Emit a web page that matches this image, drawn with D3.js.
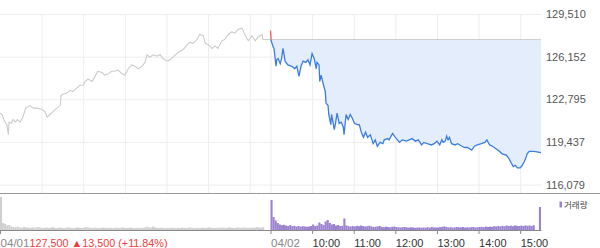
<!DOCTYPE html>
<html>
<head>
<meta charset="utf-8">
<script src="https://cdn.jsdelivr.net/npm/d3@7"></script>
<style>
body { margin: 0; background: #fff; }
svg { display: block; font-family: "Liberation Sans", Arial, "Noto Sans CJK KR", sans-serif; }
</style>
</head>
<body>
<svg width="600" height="248"></svg>
<script>
// price axis ticks
var yTicks = [116079, 119437, 122795, 126152, 129510];
var prevClose = 127500;

// 04/01 minutes from 9:00 and prices
var d1Min = [0,3,7,10,12,13,16,19,22,25,29,33,37,43,48,53,61,65,68,72,76,82,87,88,91,97,101,105,111,115,120,123,127,133,137,141,147,151,156,161,166,170,176,180,185,190,195,199,205,209,212,216,221,226,231,235,241,245,249,255,260,264,270,274,278,284,288,293,296,300,306,310,314,320,324,329,334,339,343,349,353,358,363,368,372,378,379,390];
var d1Price = [121700,121600,121000,120800,120000,121000,120900,121200,121000,121200,121000,121400,122100,122300,122100,122100,122000,121800,121400,121600,121800,122100,122300,123100,123200,123300,123500,123400,123700,123900,123900,124200,124400,124200,124600,125000,124900,124700,124800,125000,125000,125100,124800,124700,125200,125500,125400,125200,125400,125700,126300,126100,126300,126200,126300,126000,125800,125900,126100,126400,126600,126700,127100,127300,127200,127500,127900,127800,127200,127100,126800,127000,126800,127400,127500,127900,128100,128000,128300,128400,127900,127400,127800,127400,127700,127900,127500,127500];

// 04/02 minutes from 9:00 and prices
var d2Min = [0,1,4,5,8,9,11,14,16,18,21,25,30,33,35,38,41,44,47,51,54,57,60,63,66,67,70,71,73,76,79,80,83,84,87,88,92,94,96,99,102,105,106,109,112,115,118,121,125,128,131,134,137,140,144,148,151,154,158,162,164,169,171,176,180,183,186,190,196,200,204,209,213,218,221,226,232,236,240,244,247,249,252,254,256,258,261,266,270,276,280,284,290,294,298,304,309,312,316,320,325,330,334,340,344,348,350,353,356,360,363,366,369,370,373,377,380,390];
var d2Price = [128200,127400,126900,126800,125400,125900,126000,125600,126000,126800,125800,125500,125400,125300,125200,125400,124600,125400,125800,125700,125900,125500,126400,126000,125200,125700,125500,124200,124700,124000,123400,122500,122300,121600,120800,121600,120400,121000,121700,120900,121000,120600,120000,121600,121200,121600,121300,120900,120800,120800,120200,119800,120200,119800,120000,119300,119600,119100,119400,119300,119600,119700,119600,120100,119800,119600,119400,119600,119500,119600,119700,119500,119600,119200,119400,119300,119200,119300,119500,119200,119600,119400,119500,119900,119600,119800,119300,119200,119300,119100,119000,119000,118800,119100,119200,119300,119400,119600,119200,119100,118900,118700,118500,118400,118100,117700,117500,117600,117400,117400,117600,117900,118300,118500,118700,118700,118700,118600];

// volume, 3-minute bins (thousand shares), one row = 30 minutes
var d1Vol = [
  330, 70, 60, 45, 50, 35, 30, 28, 32, 25,
  22, 30, 26, 24, 20, 28, 22, 25, 30, 24,
  20, 22, 26, 21, 24, 28, 22, 20, 25, 23,
  20, 22, 27, 24, 21, 19, 23, 26, 22, 20,
  24, 30, 25, 22, 20, 24, 22, 19, 21, 25,
  22, 20, 23, 21, 19, 24, 22, 20, 26, 23,
  21, 20, 24, 22, 19, 21, 23, 20, 22, 25,
  32, 28, 24, 35, 26, 22, 20, 24, 21, 19,
  22, 20, 23, 21, 19, 22, 20, 24, 22, 20,
  23, 25, 21, 20, 22, 19, 21, 24, 20, 22,
  26, 23, 21, 20, 24, 22, 25, 23, 21, 24,
  27, 22, 20, 23, 25, 22, 24, 26, 23, 21,
  24, 22, 25, 28, 26, 24, 28, 0, 0, 0
];
var d2Vol = [
  300, 130, 95, 70, 55, 48, 52, 45, 40, 50,
  38, 42, 35, 40, 33, 38, 36, 32, 35, 40,
  55, 40, 45, 75, 60, 50, 85, 100, 70, 55,
  60, 45, 50, 40, 42, 115, 45, 38, 35, 40,
  36, 42, 38, 45, 40, 35, 38, 42, 36, 30,
  32, 36, 40, 30, 28, 34, 30, 27, 32, 35,
  30, 27, 25, 28, 30, 26, 24, 27, 25, 22,
  24, 26, 22, 25, 23, 28, 24, 30, 26, 24,
  25, 28, 32, 36, 30, 26, 28, 24, 26, 30,
  28, 26, 30, 24, 27, 25, 28, 30, 26, 28,
  30, 32, 28, 35, 30, 34, 32, 38, 35, 40,
  36, 42, 38, 45, 40, 44, 38, 46, 42, 40,
  44, 40, 46, 42, 45, 40, 48, 0, 0, 230
];

var gridMin = [60,120,180,240,300,360,390,450,510,570,630,690,750];
var labelMin = [0,390,450,510,570,630,690,750];
var labelText = ["04/01","04/02","10:00","11:00","12:00","13:00","14:00","15:00"];
var closeInfo = "127,500 \u25B213,500 (+11.84%)";

var svg = d3.select("svg"),
    width = +svg.attr("width"),
    height = +svg.attr("height"),
    plotW = 541,
    plotTop = 14,
    priceBottom = 184.6,
    axisY = 193.5,
    volTop = 196,
    volBottom = 230;

var x = d3.scaleLinear().domain([0, 780]).range([0, plotW]);
var y = d3.scaleLinear().domain([yTicks[0], yTicks[yTicks.length - 1]]).range([priceBottom, plotTop]);
var yVol = d3.scaleLinear().domain([0, 340]).range([volBottom, volTop]);

var day1 = d1Min.map(function(m, i) { return {t: m, p: d1Price[i]}; });
var day2 = d2Min.map(function(m, i) { return {t: m + 390, p: d2Price[i]}; });

// grid
var hGrid = svg.append("g")
    .attr("transform", "translate(" + plotW + ",0)")
    .call(d3.axisLeft(y).tickValues(yTicks).tickSize(plotW).tickFormat(""));
hGrid.select(".domain").remove();
hGrid.selectAll("line").attr("stroke", "#ededed");

var vGrid = svg.append("g")
    .attr("transform", "translate(0," + axisY + ")")
    .call(d3.axisBottom(x).tickValues(gridMin).tickSize(-(axisY - plotTop)).tickFormat(""));
vGrid.select(".domain").remove();
vGrid.selectAll("line").attr("stroke", "#ededed");

// right price labels
var yAxis = svg.append("g")
    .attr("transform", "translate(" + plotW + ",0)")
    .call(d3.axisRight(y).tickValues(yTicks).tickSize(0).tickPadding(5).tickFormat(d3.format(",")));
yAxis.select(".domain").remove();
yAxis.selectAll("text")
    .attr("font-family", "Liberation Sans, Arial, sans-serif")
    .attr("font-size", "11px")
    .attr("fill", "#555");

// clip paths above / below previous close
var defs = svg.append("defs");
defs.append("clipPath").attr("id", "above")
  .append("rect").attr("x", 0).attr("y", 0).attr("width", width).attr("height", y(prevClose));
defs.append("clipPath").attr("id", "below")
  .append("rect").attr("x", 0).attr("y", y(prevClose)).attr("width", width).attr("height", height - y(prevClose));

var line = d3.line()
    .x(function(d) { return x(d.t); })
    .y(function(d) { return y(d.p); });

var area = d3.area()
    .x(function(d) { return x(d.t); })
    .y0(y(prevClose))
    .y1(function(d) { return y(d.p); });

svg.append("path")
    .datum(day2)
    .attr("d", area)
    .attr("fill", "#e4edfb");

svg.append("line")
    .attr("x1", x(390)).attr("x2", x(780))
    .attr("y1", y(prevClose)).attr("y2", y(prevClose))
    .attr("stroke", "#aaa")
    .attr("stroke-dasharray", "1,1");

svg.append("path")
    .datum(day1)
    .attr("d", line)
    .attr("fill", "none")
    .attr("stroke", "#cccccc")
    .attr("stroke-width", 1.1);

svg.append("path")
    .datum(day2)
    .attr("d", line)
    .attr("clip-path", "url(#below)")
    .attr("fill", "none")
    .attr("stroke", "#3b7de0")
    .attr("stroke-width", 1.3);

svg.append("path")
    .datum(day2)
    .attr("d", line)
    .attr("clip-path", "url(#above)")
    .attr("fill", "none")
    .attr("stroke", "#f35a5a")
    .attr("stroke-width", 1.3);

// separator between price and volume
svg.append("line")
    .attr("x1", 0).attr("x2", width)
    .attr("y1", axisY).attr("y2", axisY)
    .attr("stroke", "#999");

// volume
var binW = x(3) - x(0);
svg.append("g").selectAll("rect")
    .data(d1Vol)
    .enter().append("rect")
      .attr("x", function(d, i) { return x(i * 3); })
      .attr("width", binW)
      .attr("y", function(d) { return yVol(d); })
      .attr("height", function(d) { return volBottom - yVol(d); })
      .attr("fill", "#cfcfcf");

svg.append("g").selectAll("rect")
    .data(d2Vol)
    .enter().append("rect")
      .attr("x", function(d, i) { return x(390 + i * 3); })
      .attr("width", binW)
      .attr("y", function(d) { return yVol(d); })
      .attr("height", function(d) { return volBottom - yVol(d); })
      .attr("fill", "#9b82cf");

// time axis
var xAxis = svg.append("g")
    .attr("transform", "translate(0," + volBottom + ")")
    .call(d3.axisBottom(x).tickValues(labelMin).tickSize(4).tickSizeOuter(0).tickPadding(5)
        .tickFormat(function(d, i) { return labelText[i]; }));
xAxis.attr("text-anchor", "start");
xAxis.select(".domain").attr("stroke", "#888");
xAxis.selectAll("line").attr("stroke", "#888");
xAxis.selectAll(".tick text")
    .attr("font-family", "Liberation Sans, Arial, sans-serif")
    .attr("font-size", function(d, i) { return labelText[i].indexOf("/") > 0 ? "11.6px" : "11px"; })
    .attr("fill", function(d, i) { return labelText[i].indexOf("/") > 0 ? "#888" : "#333"; });

var firstW = xAxis.select(".tick text").node().getComputedTextLength();
xAxis.append("text")
    .attr("text-anchor", "start")
    .attr("x", x(0) + firstW + 0.5)
    .attr("y", 9)
    .attr("dy", "0.71em")
    .attr("font-family", "Liberation Sans, Arial, sans-serif")
    .attr("font-size", "10.8px")
    .attr("fill", "#f23b3b")
    .text(closeInfo);

// legend
var legend = svg.append("g")
    .attr("transform", "translate(" + (plotW + 18.5) + "," + (volTop + 5.5) + ")");
legend.append("rect")
    .attr("width", 2.5).attr("height", 6)
    .attr("fill", "#9b82cf");
legend.append("text")
    .attr("x", 4.5).attr("y", 6.5)
    .attr("font-family", "Noto Sans CJK KR, sans-serif")
    .attr("font-size", "8.5px")
    .attr("fill", "#444")
    .text("거래량");
</script>
</body>
</html>
